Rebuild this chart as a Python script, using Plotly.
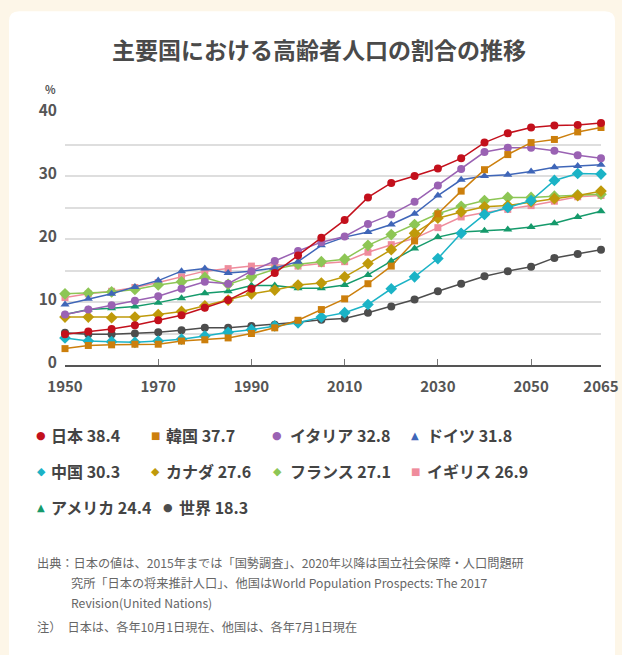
import plotly.graph_objects as go

years = list(range(1950, 2070, 5))

countries = ["日本", "韓国", "イタリア", "ドイツ", "中国", "カナダ", "フランス", "イギリス", "アメリカ", "世界"]

japan   = [4.9, 5.3, 5.7, 6.3, 7.1, 7.9, 9.1, 10.3, 12.1, 14.6, 17.4, 20.2, 23.0, 26.6, 28.9, 30.0, 31.2, 32.8, 35.3, 36.8, 37.7, 38.0, 38.1, 38.4]
korea   = [2.6, 3.1, 3.2, 3.3, 3.3, 3.8, 4.0, 4.3, 5.0, 5.9, 7.1, 8.8, 10.5, 12.9, 15.7, 19.7, 24.0, 27.6, 31.0, 33.4, 35.3, 35.8, 37.0, 37.7]
italy   = [8.0, 8.8, 9.5, 10.2, 10.9, 12.1, 13.2, 12.9, 14.9, 16.5, 18.1, 19.5, 20.4, 22.4, 23.9, 25.9, 28.5, 31.1, 33.8, 34.5, 34.5, 34.0, 33.3, 32.8]
germany = [9.6, 10.5, 11.3, 12.4, 13.4, 14.9, 15.3, 14.6, 14.9, 15.4, 16.4, 19.0, 20.3, 21.1, 22.3, 24.0, 26.9, 29.4, 30.0, 30.2, 30.7, 31.4, 31.6, 31.8]
china   = [4.3, 3.8, 3.7, 3.6, 3.8, 4.1, 4.6, 5.2, 5.6, 6.2, 6.7, 7.6, 8.3, 9.6, 12.1, 14.0, 16.9, 20.9, 23.9, 25.0, 26.1, 29.3, 30.4, 30.3]
canada  = [7.6, 7.6, 7.5, 7.6, 8.0, 8.5, 9.4, 10.3, 11.3, 11.9, 12.7, 13.0, 14.0, 16.1, 18.3, 20.9, 23.3, 24.3, 25.1, 25.3, 25.9, 26.4, 26.9, 27.6]
france  = [11.3, 11.4, 11.6, 12.0, 12.7, 13.2, 13.9, 12.8, 14.0, 15.2, 16.0, 16.4, 16.8, 19.0, 20.7, 22.3, 24.0, 25.2, 26.1, 26.6, 26.6, 26.8, 27.0, 27.1]
uk      = [10.7, 11.3, 11.7, 12.3, 13.1, 14.0, 14.9, 15.3, 15.7, 15.9, 15.7, 16.1, 16.4, 17.9, 19.1, 20.1, 21.8, 23.5, 24.2, 24.7, 25.3, 26.0, 26.7, 26.9]
usa     = [8.0, 8.8, 9.0, 9.3, 9.9, 10.6, 11.4, 11.7, 12.6, 12.6, 12.2, 12.2, 12.7, 14.3, 16.5, 18.5, 20.3, 21.1, 21.3, 21.5, 21.9, 22.5, 23.5, 24.4]
world   = [5.1, 4.9, 4.9, 5.0, 5.2, 5.5, 5.9, 5.9, 6.2, 6.4, 6.8, 7.2, 7.4, 8.3, 9.3, 10.4, 11.7, 12.9, 14.1, 14.9, 15.6, 17.0, 17.6, 18.3]

series = [japan, korea, italy, germany, china, canada, france, uk, usa, world]
colors = ["#c3101c", "#cc7f0c", "#9a62b3", "#3f66b8", "#1bb3c6", "#bf9a0a", "#8dc655", "#ef8c9c", "#159a6b", "#4d4d4d"]
symbols = ["circle", "square", "circle", "triangle-up", "diamond", "diamond", "diamond", "square", "triangle-up", "circle"]
glyphs = ["●", "■", "●", "▲", "◆", "◆", "◆", "■", "▲", "●"]
msizes = [8, 7, 8, 8, 9, 9, 9, 7, 8, 8]

x_ticks = [1950, 1970, 1990, 2010, 2030, 2050, 2065]
y_ticks = [0, 5, 10, 15, 20, 25, 30, 35, 40]
y_ticktext = ["0", "", "10", "", "20", "", "30", "", "40"]

W, H = 622, 655
L, R, T, B = 65, 21, 112.7, 290.3
PW = W - L - R
PH = H - T - B
Y0 = H - B

def px(xp):
    return (xp - L) / PW

def py(yp):
    return (Y0 - yp) / PH

FONT = "Noto Sans CJK JP"
BG = "#fdf6e8"

fig = go.Figure()
order = list(range(len(series)))[::-1]
for i in order:
    fig.add_trace(go.Scatter(
        x=years, y=series[i], mode="lines+markers", name=countries[i],
        line=dict(color=colors[i], width=1.5),
        marker=dict(symbol=symbols[i], size=msizes[i], color=colors[i], line=dict(width=0)),
        cliponaxis=False, showlegend=False,
    ))

# white card background
x1, x2 = px(9), px(615)
y1, y2 = py(11), py(700)
rx, ry = 10 / PW, 10 / PH
path = (f"M {x1+rx},{y1} L {x2-rx},{y1} Q {x2},{y1} {x2},{y1-ry} "
        f"L {x2},{y2} L {x1},{y2} L {x1},{y1-ry} Q {x1},{y1} {x1+rx},{y1} Z")
fig.add_shape(type="path", path=path, xref="paper", yref="paper",
              fillcolor="white", line=dict(width=0), layer="below")

annotations = []
annotations.append(dict(text="<b>%</b>", x=px(50), y=py(89), xref="paper", yref="paper",
                        showarrow=False, font=dict(size=11, color="#555", family=FONT),
                        xanchor="center", yanchor="middle", borderpad=0))

# legend as annotations
marker_pos = [(41, 435), (155, 435), (277, 435), (415, 435),
              (41, 471), (155, 471), (277, 471), (415, 471),
              (41, 507), (168, 507)]
text_x = [49, 164, 288, 425, 49, 164, 288, 425, 49, 177]
for k, name in enumerate(countries):
    mx, my = marker_pos[k]
    gsize = {"●": 11, "■": 10, "▲": 10, "◆": 11}[glyphs[k]]
    annotations.append(dict(text=glyphs[k], x=px(mx), y=py(my),
                            xref="paper", yref="paper", showarrow=False,
                            font=dict(size=gsize, color=colors[k], family="DejaVu Sans"),
                            xanchor="center", yanchor="middle"))
    annotations.append(dict(text=f"<b>{name} {series[k][-1]}</b>", x=px(text_x[k]), y=py(my),
                            xref="paper", yref="paper", showarrow=False,
                            font=dict(size=16, color="#444", family=FONT),
                            xanchor="left", yanchor="middle"))

note_lines = [
    (35, 563, "出典：日本の値は、2015年までは「国勢調査」、2020年以降は国立社会保障・人口問題研"),
    (69, 583, "究所「日本の将来推計人口」、他国はWorld Population Prospects: The 2017"),
    (69, 603, "Revision(United Nations)"),
    (35, 627, "注）　日本は、各年10月1日現在、他国は、各年7月1日現在"),
]
for xp, yp, t in note_lines:
    annotations.append(dict(text=t, x=px(xp), y=py(yp), xref="paper", yref="paper",
                            showarrow=False, font=dict(size=12.2, color="#666", family=FONT),
                            xanchor="left", yanchor="middle"))

fig.update_layout(
    width=W, height=H,
    margin=dict(l=L, r=R, t=T, b=B, pad=0, autoexpand=False),
    paper_bgcolor=BG,
    plot_bgcolor="rgba(0,0,0,0)",
    title=dict(text="<b>主要国における高齢者人口の割合の推移</b>", x=319 / W, xanchor="center",
               y=1 - 51 / H, yanchor="middle", yref="container",
               font=dict(size=23, color="#4a4a4a", family=FONT)),
    font=dict(family=FONT, color="#555"),
    annotations=annotations,
    showlegend=False,
)
fig.update_xaxes(range=[1950, 2065], tickvals=x_ticks, ticktext=[f"<b>{v}</b>" for v in x_ticks],
                 automargin=False, ticklabelstandoff=7,
                 showgrid=False, zeroline=False, showline=True, linecolor="#555", linewidth=1.5,
                 ticks="inside", ticklen=6, tickcolor="#777", tickwidth=1,
                 tickfont=dict(size=15, color="#555", family=FONT))
fig.update_yaxes(range=[0, 40], tickvals=y_ticks, ticktext=[f"<b>{t}</b>" if t else "" for t in y_ticktext],
                 automargin=False, ticklabelstandoff=7, ticklabelshift=-2,
                 showgrid=True, gridcolor="#dedede", gridwidth=1.5, zeroline=False, showline=False,
                 ticks="", tickfont=dict(size=15.5, color="#555", family=FONT))

fig.write_html(
    "out.html",
    config={"displayModeBar": False},
    post_script=f"document.body.style.margin='0';document.body.style.background='{BG}';",
)
